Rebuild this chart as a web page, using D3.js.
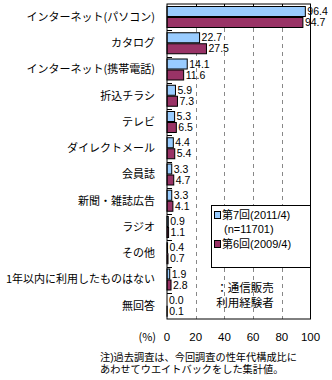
<!DOCTYPE html>
<html><head><meta charset="utf-8">
<script src="https://cdn.jsdelivr.net/npm/d3@7"></script>
<style>body{margin:0;background:#fff}svg text{font-family:"Noto Sans CJK JP",sans-serif;}svg text.num{font-family:"Liberation Sans",Arial,sans-serif;}svg text.tight{font-family:"Liberation Sans","Noto Sans CJK JP",sans-serif;}</style>
</head><body><svg id="c" width="332" height="380"></svg>
<script>
const categories = ["インターネット(パソコン)","カタログ","インターネット(携帯電話)","折込チラシ","テレビ","ダイレクトメール","会員誌","新聞・雑誌広告","ラジオ","その他","1年以内に利用したものはない","無回答"];
const series2011 = [96.4,22.7,14.1,5.9,5.3,4.4,3.3,3.3,0.9,0.4,1.9,0.0];
const series2009 = [94.7,27.5,11.6,7.3,6.5,5.4,4.7,4.1,1.1,0.7,2.8,0.1];
const tickValues = [0,20,40,60,80,100];
const legendLabels = ["第7回(2011/4)","(n=11701)","第6回(2009/4)"];
const footnoteLines = ["注)過去調査は、今回調査の性年代構成比に","あわせてウエイトバックをした集計値。"];
const colors = ["#99ccff","#993366"];

const svg = d3.select("#c");
const L=167, R=310.5, T=4, B=319;
const x = d3.scaleLinear().domain([0,100]).range([L,R]);
const y = d3.scaleBand().domain(categories).range([T,B]);
const bw = y.bandwidth();

// gridlines
svg.append("g").selectAll("line").data([20,40,60,80]).join("line")
  .attr("x1",d=>Math.round(x(d))+0.5).attr("x2",d=>Math.round(x(d))+0.5)
  .attr("y1",T).attr("y2",B).attr("stroke","#888").attr("stroke-dasharray","4,4");
// top ticks
svg.append("g").selectAll("line").data([20,40,60,80]).join("line")
  .attr("x1",d=>Math.round(x(d))+0.5).attr("x2",d=>Math.round(x(d))+0.5)
  .attr("y1",T).attr("y2",T+5).attr("stroke","#000");
// left ticks
svg.append("g").selectAll("line").data(d3.range(1,categories.length)).join("line")
  .attr("x1",L).attr("x2",L+5).attr("y1",i=>Math.round(T+i*bw)+0.5).attr("y2",i=>Math.round(T+i*bw)+0.5)
  .attr("stroke","#000");

const g = svg.append("g");
const data = categories.map((c,i)=>({c,a:series2011[i],b:series2009[i]}));
g.selectAll("rect.a").data(data).join("rect").attr("class","a")
  .attr("x",x(0)).attr("y",d=>y(d.c)+2.5).attr("width",d=>x(d.a)-x(0)).attr("height",10)
  .attr("fill",colors[0]).attr("stroke","#000").attr("stroke-width",1);
g.selectAll("rect.b").data(data).join("rect").attr("class","b")
  .attr("x",x(0)).attr("y",d=>y(d.c)+13.5).attr("width",d=>x(d.b)-x(0)).attr("height",10)
  .attr("fill",colors[1]).attr("stroke","#000").attr("stroke-width",1);

g.selectAll("text.va").data(data).join("text").attr("class","va num")
  .attr("x",d=>x(d.a)+2).attr("y",d=>y(d.c)+7.5).attr("dy","0.35em")
  .attr("font-size",10.5).text(d=>d.a.toFixed(1));
g.selectAll("text.vb").data(data).join("text").attr("class","vb num")
  .attr("x",d=>x(d.b)+2).attr("y",d=>y(d.c)+18.5).attr("dy","0.35em")
  .attr("font-size",10.5).text(d=>d.b.toFixed(1));

// category labels
svg.append("g").selectAll("text").data(categories).join("text")
  .attr("x",155).attr("y",d=>y(d)+bw/2).attr("dy","0.35em").attr("text-anchor","end")
  .attr("font-size",11).text(d=>d);

// frame
svg.append("rect").attr("x",L).attr("y",T).attr("width",R-L).attr("height",B-T)
  .attr("fill","none").attr("stroke","#000");

// x tick labels
svg.append("g").selectAll("text").data(tickValues).join("text").attr("class","num")
  .attr("x",d=>x(d)).attr("y",337).attr("dy","0.35em").attr("text-anchor","middle")
  .attr("font-size",11.5).text(d=>d);
svg.append("text").attr("x",156).attr("y",337).attr("dy","0.35em").attr("text-anchor","end")
  .attr("font-size",11).text("(%)");

// legend
svg.append("rect").attr("x",211.5).attr("y",205.5).attr("width",99).attr("height",62)
  .attr("fill","#fff").attr("stroke","#000");
svg.append("rect").attr("x",214.5).attr("y",211.5).attr("width",6).attr("height",7).attr("fill",colors[0]).attr("stroke","#000");
svg.append("rect").attr("x",214.5).attr("y",240.5).attr("width",6).attr("height",7).attr("fill",colors[1]).attr("stroke","#000");
svg.append("text").attr("class","tight").attr("x",222).attr("y",215).attr("dy","0.35em").attr("font-size",11).text(legendLabels[0]);
svg.append("text").attr("class","tight").attr("x",224).attr("y",229).attr("dy","0.35em").attr("font-size",11).text(legendLabels[1]);
svg.append("text").attr("class","tight").attr("x",222).attr("y",244).attr("dy","0.35em").attr("font-size",11).text(legendLabels[2]);

// annotation
svg.append("text").attr("class","tight").attr("x",245).attr("y",288).attr("dy","0.35em").attr("text-anchor","middle").attr("font-size",11.5).text("：通信販売");
svg.append("text").attr("class","tight").attr("x",245).attr("y",303).attr("dy","0.35em").attr("text-anchor","middle").attr("font-size",11.5).text("利用経験者");

// footnote
svg.append("g").selectAll("text").data(footnoteLines).join("text").attr("class","tight")
  .attr("font-size",10.2).attr("x",100).attr("y",(d,i)=>357.5+i*11.6).attr("dy","0.35em").text(d=>d);
</script></body></html>
